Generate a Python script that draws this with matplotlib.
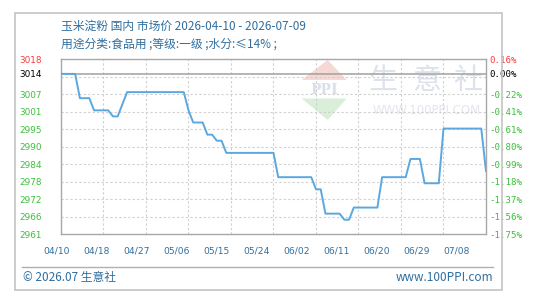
import numpy as np
import pandas as pd
import matplotlib
matplotlib.use("Agg")
import matplotlib.pyplot as plt
import matplotlib.dates as mdates
from matplotlib.patches import Polygon, Rectangle
from matplotlib.lines import Line2D

plt.rcParams['font.family'] = ['Noto Sans CJK SC', 'DejaVu Sans']

# daily price, 2026-04-10 .. 2026-07-09
fechas = pd.date_range("2026-04-10", "2026-07-09", freq="D")
precio = [3014, 3014, 3014, 3014, 3006, 3006, 3006, 3002, 3002, 3002,
          3002, 3000, 3000, 3004, 3008, 3008, 3008, 3008, 3008, 3008,
          3008, 3008, 3008, 3008, 3008, 3008, 3008, 3002, 2998, 2998,
          2998, 2994, 2994, 2992, 2992, 2988, 2988, 2988, 2988, 2988,
          2988, 2988, 2988, 2988, 2988, 2988, 2980, 2980, 2980, 2980,
          2980, 2980, 2980, 2980, 2976, 2976, 2968, 2968, 2968, 2968,
          2966, 2966, 2970, 2970, 2970, 2970, 2970, 2970, 2980, 2980,
          2980, 2980, 2980, 2980, 2986, 2986, 2986, 2978, 2978, 2978,
          2978, 2996, 2996, 2996, 2996, 2996, 2996, 2996, 2996, 2996,
          2982]
base = 3014
y_min, y_max = 2961.2, 3018.8

etiquetas_izq = ["3018", "3014", "3007", "3001", "2995", "2990", "2984", "2978", "2972", "2966", "2961"]
etiquetas_der = ["0.16%", "0.00%", "-0.22%", "-0.41%", "-0.61%", "-0.80%", "-0.99%", "-1.18%", "-1.37%", "-1.56%", "-1.75%"]
fechas_eje = ["04/10", "04/18", "04/27", "05/06", "05/15", "05/24", "06/02", "06/11", "06/20", "06/29", "07/08"]

W, H = 554, 306
verde = "#3cbf3c"
rojo = "#ff3b3b"
azul = "#2f6e9f"

def fx(px):
    return px / W

def fy(py):
    return 1 - py / H

fig = plt.figure(figsize=(W / 100, H / 100), dpi=100)
fig.patch.set_facecolor("white")

# outer frame
fig.patches.append(Rectangle((fx(15), fy(290)), fx(487), (290 - 13) / H, transform=fig.transFigure,
                             fill=False, edgecolor="#c4c4c4", lw=1.2))

ax = fig.add_axes([fx(61), fy(234.3), fx(425), 175 / H])
ax.set_facecolor("none")

grid_y = np.linspace(y_min, y_max, 11)
x0 = mdates.date2num(fechas[0])
x1 = mdates.date2num(fechas[-1])
grid_x = np.linspace(x0, x1, 11)

for gy in grid_y[1:-1]:
    ax.axhline(gy, color="#cfcfcf", lw=0.8, ls=(0, (2, 2)), zorder=0.5)
for gx in grid_x[1:-1]:
    ax.axvline(gx, color="#cfcfcf", lw=0.8, ls=(0, (2, 2)), zorder=0.5)
ax.axhline(base, color="#a0a0a0", lw=1.1, zorder=1)

ax.plot(fechas, precio, color="#5aa8df", lw=1.4, zorder=3)

ax.set_xlim(x0, x1)
ax.set_ylim(y_min, y_max)
for s in ax.spines.values():
    s.set_color("#a8a8a8")
    s.set_linewidth(1)

pos_izq = [grid_y[-1], base] + list(grid_y[8::-1])
ax.set_xticks([])
ax.set_yticks(pos_izq)
ax.set_yticklabels(etiquetas_izq, family="DejaVu Sans", fontsize=6.4)
ax.tick_params(axis="y", length=0, pad=14)
for i, t in enumerate(ax.get_yticklabels()):
    t.set_color(rojo if i == 0 else ("black" if i == 1 else verde))

ax2 = ax.twinx()
ax2.set_ylim(y_min, y_max)
ax2.set_yticks(pos_izq)
ax2.set_yticklabels(etiquetas_der, family="DejaVu Sans Mono", fontsize=6.6)
ax2.tick_params(axis="y", length=0, pad=2.5)
for s in ax2.spines.values():
    s.set_visible(False)
for i, t in enumerate(ax2.get_yticklabels()):
    t.set_color(rojo if i == 0 else ("black" if i == 1 else verde))

# watermark
tf = fig.transFigure
ax.add_patch(Polygon([(fx(327.7), fy(60)), (fx(301.7), fy(80)), (fx(346.7), fy(80))],
                     closed=True, transform=tf, facecolor="#f6d9d4", edgecolor="none", zorder=0.4))
ax.add_patch(Polygon([(fx(301.7), fy(98.5)), (fx(346.7), fy(98.5)), (fx(327.7), fy(120))],
                     closed=True, transform=tf, facecolor="#d9efd9", edgecolor="none", zorder=0.4))
ax.text(fx(324.5), fy(89.5), "PPI", transform=tf, ha="center", va="center", fontsize=10,
        fontweight="bold", family="DejaVu Serif", color="#d9dfeb", zorder=0.4)
for cx, ch in zip([383, 426.7, 467.5], "生意社"):
    ax.text(fx(cx), fy(81), ch, transform=tf, ha="center", va="center", fontsize=21,
            color="#dde2ec", zorder=0.4)
ax.text(fx(427), fy(110), "WWW.100PPI.COM", transform=tf, ha="center", va="center",
        fontsize=8.5, color="#e3e6ee", family="DejaVu Sans", zorder=0.4)

# titles
fig.text(fx(61), fy(26), "玉米淀粉 国内 市场价 2026-04-10 - 2026-07-09", ha="left", va="center",
         fontsize=8.5, color=azul)
fig.text(fx(61), fy(44.5), "用途分类:食品用 ;等级:一级 ;水分:≤14% ;", ha="left", va="center",
         fontsize=8.5, color=azul)

# date labels
for i, lab in enumerate(fechas_eje):
    fig.text(fx(57 + 40 * i), fy(251), lab, ha="center", va="center", fontsize=6.6,
             family="DejaVu Sans", color=azul)

# footer
fig.lines.append(Line2D([fx(22), fx(493)], [fy(267), fy(267)], transform=tf, color="#b0b0b0", lw=1))
fig.text(fx(23), fy(277.5), "© 2026.07 生意社", ha="left", va="center", fontsize=8.5, color=azul)
fig.text(fx(493), fy(277.5), "www.100PPI.com", ha="right", va="center", fontsize=8.5, color=azul)

fig.savefig("out.png", dpi=100)
